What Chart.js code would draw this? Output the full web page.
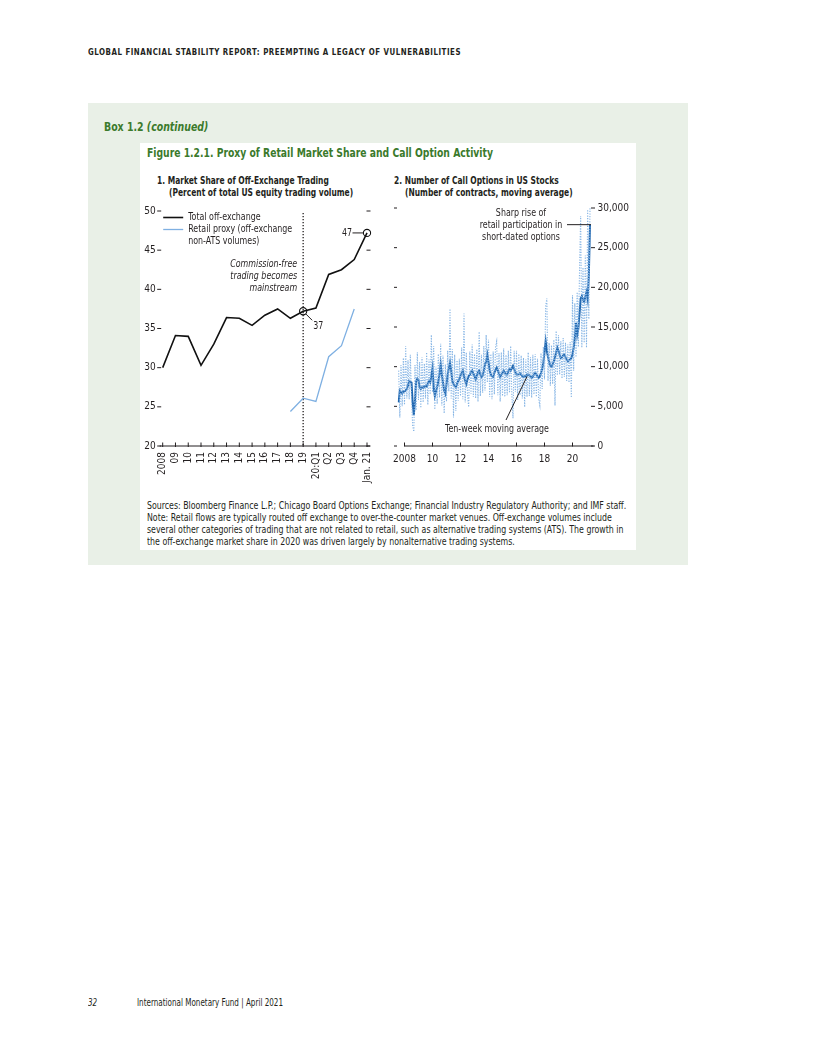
<!DOCTYPE html>
<html>
<head>
<meta charset="utf-8">
<script src="https://cdn.jsdelivr.net/npm/chart.js@4.4.1/dist/chart.umd.min.js"></script>
<style>
  body { margin: 0; background: #fff; }
  #page { position: relative; width: 816px; height: 1056px; overflow: hidden;
          font-family: "DejaVu Sans Condensed", "Liberation Sans", sans-serif; color: #231f20; }
  .abs { position: absolute; white-space: nowrap; transform-origin: 0 0; }
  .hdr { font-size: 9px; font-weight: bold; letter-spacing: 0.6px; line-height: 12px; transform: scaleX(0.87); }
  .boxlbl { font-size: 12px; font-weight: bold; color: #3b7a2c; line-height: 16px; transform: scaleX(0.87); }
  .figttl { font-size: 12px; font-weight: bold; color: #3b7a2c; line-height: 14px; transform: scaleX(0.855); }
  .ptl { font-size: 10px; font-weight: bold; line-height: 12px; transform: scaleX(0.835); }
  .notes { font-size: 9.6px; line-height: 12px; transform: scaleX(0.91); }
  .foot { font-size: 10px; line-height: 12px; transform: scaleX(0.8); }
  canvas { position: absolute; }
</style>
</head>
<body>
<div id="page">
  <div class="abs hdr" style="left:88px; top:46px;">GLOBAL FINANCIAL STABILITY REPORT: PREEMPTING A LEGACY OF VULNERABILITIES</div>

  <div class="abs" style="left:88px; top:103px; width:600px; height:462px; background:#e9f0e7;"></div>
  <div class="abs boxlbl" style="left:104px; top:119px;">Box 1.2 <i>(continued)</i></div>
  <div class="abs" style="left:140px; top:143px; width:496px; height:407px; background:#fff;"></div>
  <div class="abs figttl" style="left:147px; top:146px;">Figure 1.2.1. Proxy of Retail Market Share and Call Option Activity</div>

  <div class="abs ptl" style="left:157px; top:175px;">1. Market Share of Off-Exchange Trading</div>
  <div class="abs ptl" style="left:169px; top:187px;">(Percent of total US equity trading volume)</div>
  <div class="abs ptl" style="left:394px; top:175px;">2. Number of Call Options in US Stocks</div>
  <div class="abs ptl" style="left:405px; top:187px;">(Number of contracts, moving average)</div>

  <canvas id="shareChart" width="245" height="300" style="left:140px; top:198px;"></canvas>
  <canvas id="callChart" width="245" height="300" style="left:385px; top:198px;"></canvas>

  <div class="abs notes" style="left:147px; top:500px;">Sources: Bloomberg Finance L.P.; Chicago Board Options Exchange; Financial Industry Regulatory Authority; and IMF staff.<br>Note: Retail flows are typically routed off exchange to over-the-counter market venues. Off-exchange volumes include<br>several other categories of trading that are not related to retail, such as alternative trading systems (ATS). The growth in<br>the off-exchange market share in 2020 was driven largely by nonalternative trading systems.</div>

  <div class="abs foot" style="left:88px; top:997px;"><i>32</i></div>
  <div class="abs foot" style="left:137px; top:997px;">International Monetary Fund | April 2021</div>
</div>

<script>
// panel 1: market share of off-exchange trading (percent)
const shareLabels = ['2008', '09', '10', '11', '12', '13', '14', '15', '16', '17', '18', '19',
  '20:Q1', 'Q2', 'Q3', 'Q4', 'Jan. 21'];
const totalOffExchange = [30.0, 34.1, 34.0, 30.3, 33.0, 36.4, 36.3, 35.4, 36.7, 37.5, 36.3, 37.2,
  37.6, 41.9, 42.5, 43.8, 47.2];
const retailProxy = [null, null, null, null, null, null, null, null, null, null, 24.4, 26.1,
  25.7, 31.4, 32.8, 37.5, null];
const markedPoints = [11, 16]; // 2019 and Jan. 21

// panel 2: call options, thousands of contracts, monthly from Aug 2007
const callStart = 2007 + 7 / 12;
const callRaw = [
  9.5, 3.6, 10.2, 5.0, 11.1,
  5.2, 12.6, 6.0, 10.8, 5.9, 11.5, 6.2, 2.5, 1.8, 10.2, 4.5, 11.8,
  5.8, 10.6, 4.8, 11.2, 5.5, 10.4, 6.0, 11.8, 5.2, 10.9, 6.5, 14.0,
  6.8, 12.6, 4.6, 10.0, 5.3, 11.6, 6.1, 12.9, 5.1, 11.4, 4.1, 10.3,
  5.6, 12.0, 6.9, 17.3, 6.0, 12.2, 3.6, 11.5, 4.4, 10.8, 5.7, 11.0,
  6.3, 12.4, 5.9, 16.7, 5.5, 11.8, 6.4, 4.9, 11.9, 6.6, 12.8, 6.2,
  11.6, 6.0, 12.2, 5.6, 14.4, 6.3, 11.5, 6.7, 12.6, 7.0, 14.0, 8.0,
  13.4, 6.2, 11.6, 5.9, 11.9, 6.5, 12.5, 13.2, 6.4, 11.7, 5.6, 11.8,
  6.3, 12.3, 6.2, 11.5, 6.4, 12.0, 6.7, 12.6, 6.5, 3.5, 12.0, 6.8,
  12.0, 5.8, 11.6, 6.4, 11.4, 6.0, 11.1, 4.9, 10.9, 6.2, 11.8, 6.3,
  11.2, 6.1, 11.5, 6.5, 11.6, 6.2, 11.0, 5.9, 5.1, 11.7, 7.2, 12.5,
  8.4, 17.6, 18.6, 8.2, 13.0, 7.6, 12.7, 7.8, 13.4, 5.1, 14.5, 8.9,
  14.0, 9.0, 13.2, 8.5, 13.6, 8.7, 13.0, 8.2, 12.8, 8.0, 13.1, 6.1,
  19.0, 9.5, 18.0, 11.2, 19.4, 12.5, 22.0, 29.0, 12.4, 22.5, 13.0, 24.0,
  12.4, 29.8, 16.0, 30.0
];
const callMovingAvg = [
  5.5, 7.0, 6.8, 6.6, 6.9,
  6.9, 7.0, 7.2, 7.6, 8.2, 8.1, 8.0, 5.5, 3.9, 5.8, 8.2, 8.5,
  8.3, 7.4, 7.2, 7.4, 7.3, 7.5, 7.6, 7.5, 7.9, 8.2, 8.0, 8.8,
  9.8, 7.5, 6.3, 6.9, 7.4, 8.2, 9.0, 10.3, 9.0, 8.0, 7.0, 6.6,
  7.8, 9.0, 9.8, 10.5, 9.5, 8.2, 7.8, 7.6, 7.4, 7.8, 8.2, 8.4,
  8.9, 9.2, 9.5, 8.8, 8.2, 7.8, 8.4, 8.8, 9.0, 9.3, 9.5, 9.1,
  8.8, 8.4, 8.9, 9.3, 9.5, 9.0, 8.7, 8.9, 9.5, 10.3, 10.6, 11.5,
  10.6, 9.5, 9.0, 8.8, 8.7, 9.2, 9.6, 9.9, 9.5, 9.1, 8.7, 9.0,
  9.2, 9.5, 9.3, 9.0, 9.0, 9.4, 9.7, 9.5, 9.8, 10.1, 9.7, 9.3,
  9.0, 9.0, 9.1, 9.2, 9.0, 8.8, 8.7, 8.8, 8.8, 9.0, 9.0, 8.9,
  8.8, 8.6, 8.8, 9.0, 9.2, 9.0, 8.8, 8.6, 8.8, 9.2, 9.7, 10.5,
  11.8, 13.2, 12.0, 11.2, 10.6, 10.1, 10.0, 10.3, 10.7, 11.2, 11.8, 12.4,
  12.0, 11.5, 11.1, 11.2, 11.4, 11.5, 11.2, 10.9, 10.7, 10.8, 10.9, 11.1,
  11.6, 12.4, 13.6, 15.5, 14.0, 14.8, 16.6, 18.6, 18.9, 18.4, 18.2, 18.8,
  19.4, 18.5, 21.5, 27.9
];
const callYearTicks = [2008, 2010, 2012, 2014, 2016, 2018, 2020];
const callYearLabels = ['2008', '10', '12', '14', '16', '18', '20'];

const FONT = '"DejaVu Sans Condensed", "Liberation Sans", sans-serif';
const INK = '#231f20';
const SQUEEZE = 0.88;
Chart.defaults.font.family = FONT;
Chart.defaults.font.size = 10;
Chart.defaults.color = INK;

function dash(ctx, x1, y1, x2, y2) {
  ctx.beginPath();
  ctx.moveTo(x1, y1);
  ctx.lineTo(x2, y2);
  ctx.stroke();
}

// narrow text, the report uses a condensed face
function say(ctx, text, x, y, align) {
  ctx.save();
  ctx.translate(x, y);
  ctx.scale(SQUEEZE, 1);
  ctx.textAlign = align || 'left';
  ctx.fillText(text, 0, 0);
  ctx.restore();
}

const shareDecor = {
  id: 'shareDecor',
  beforeDatasetsDraw(chart) {
    const { ctx, chartArea: a, scales: { x, y } } = chart;
    ctx.save();
    ctx.strokeStyle = INK;
    ctx.lineWidth = 1;
    dash(ctx, a.left - 3, a.bottom, a.right + 3, a.bottom);
    shareLabels.forEach((_, i) => {
      const px = x.getPixelForValue(i);
      dash(ctx, px, a.bottom - 3.5, px, a.bottom + 1);
    });
    y.ticks.forEach(t => {
      const py = y.getPixelForValue(t.value);
      dash(ctx, a.left - 5.5, py, a.left - 1.5, py);
      dash(ctx, a.right - 0.5, py, a.right + 3.5, py);
    });
    // dotted marker at 2019
    const x19 = x.getPixelForValue(11);
    ctx.setLineDash([1.2, 1.8]);
    ctx.lineWidth = 1.3;
    dash(ctx, x19, a.top + 2, x19, a.bottom);
    ctx.restore();
  },
  afterDatasetsDraw(chart) {
    const { ctx, chartArea: a, scales: { x, y } } = chart;
    ctx.save();
    ctx.font = '10px ' + FONT;
    ctx.fillStyle = INK;
    ctx.textBaseline = 'middle';
    // legend
    ctx.lineWidth = 1.6;
    ctx.strokeStyle = '#111';
    dash(ctx, a.left + 0.5, a.top + 6.5, a.left + 20.5, a.top + 6.5);
    ctx.lineWidth = 1.3;
    ctx.strokeStyle = '#7fb0e2';
    dash(ctx, a.left + 0.5, a.top + 18.5, a.left + 20.5, a.top + 18.5);
    say(ctx, 'Total off-exchange', a.left + 25.5, a.top + 6.5);
    say(ctx, 'Retail proxy (off-exchange', a.left + 25.5, a.top + 18.5);
    say(ctx, 'non-ATS volumes)', a.left + 25.5, a.top + 30.5);
    // commission-free note
    const x19 = x.getPixelForValue(11);
    ctx.font = 'italic 10px ' + FONT;
    say(ctx, 'Commission-free', x19 - 6, a.top + 53, 'right');
    say(ctx, 'trading becomes', x19 - 6, a.top + 65, 'right');
    say(ctx, 'mainstream', x19 - 6, a.top + 77, 'right');
    // value callouts
    ctx.font = '10px ' + FONT;
    ctx.strokeStyle = INK;
    ctx.lineWidth = 1;
    const p37y = y.getPixelForValue(totalOffExchange[11]);
    dash(ctx, x19 + 2.8, p37y + 2.8, x19 + 9, p37y + 9);
    say(ctx, '37', x19 + 10, p37y + 15.5);
    const p47x = x.getPixelForValue(16), p47y = y.getPixelForValue(totalOffExchange[16]);
    dash(ctx, p47x - 14.5, p47y, p47x - 3.6, p47y);
    say(ctx, '47', p47x - 15, p47y + 0.5, 'right');
    ctx.restore();
  }
};

new Chart(document.getElementById('shareChart'), {
  type: 'line',
  data: {
    labels: shareLabels,
    datasets: [
      {
        label: 'Total off-exchange',
        data: totalOffExchange,
        borderColor: '#111',
        borderWidth: 1.6,
        tension: 0,
        pointRadius: c => markedPoints.includes(c.dataIndex) ? 3.6 : 0,
        pointBorderColor: '#111',
        pointBackgroundColor: 'rgba(255,255,255,0)',
        pointBorderWidth: 1.1
      },
      {
        label: 'Retail proxy (off-exchange non-ATS volumes)',
        data: retailProxy,
        borderColor: '#7fb0e2',
        borderWidth: 1.3,
        tension: 0,
        pointRadius: 0
      }
    ]
  },
  options: {
    responsive: false,
    animation: false,
    layout: { padding: { top: 7, right: 11.7, left: 0, bottom: 0 } },
    plugins: { legend: { display: false }, tooltip: { enabled: false } },
    scales: {
      x: {
        grid: { display: false, drawTicks: false },
        border: { display: false },
        ticks: { autoSkip: false, minRotation: 90, maxRotation: 90, padding: 6 },
        afterFit: s => { s.height = 52; }
      },
      y: {
        min: 20,
        max: 50,
        grid: { display: false, drawTicks: false },
        border: { display: false },
        ticks: { stepSize: 5, padding: 7 },
        afterFit: s => { s.width = 22.7; }
      }
    }
  },
  plugins: [shareDecor]
});

const callDecor = {
  id: 'callDecor',
  beforeDatasetsDraw(chart) {
    const { ctx, chartArea: a, scales: { x, y } } = chart;
    ctx.save();
    ctx.strokeStyle = INK;
    ctx.lineWidth = 1;
    dash(ctx, x.getPixelForValue(callYearTicks[0]), a.bottom, a.right, a.bottom);
    callYearTicks.forEach(v => {
      const px = x.getPixelForValue(v);
      dash(ctx, px, a.bottom - 3.5, px, a.bottom + 0.5);
    });
    y.ticks.forEach(t => {
      const py = y.getPixelForValue(t.value);
      dash(ctx, a.left - 3.5, py, a.left - 0.5, py);
      dash(ctx, a.right - 2.5, py, a.right + 1.5, py);
    });
    ctx.restore();
  },
  afterDatasetsDraw(chart) {
    const { ctx, chartArea: a, scales: { x, y } } = chart;
    const last = callMovingAvg.length - 1;
    const lx = x.getPixelForValue(callStart + last / 12);
    const ly = y.getPixelForValue(callMovingAvg[last]);
    ctx.save();
    ctx.font = '10px ' + FONT;
    ctx.fillStyle = INK;
    ctx.strokeStyle = INK;
    ctx.lineWidth = 1;
    ctx.textBaseline = 'middle';
    say(ctx, 'Sharp rise of', lx - 69, a.top + 5, 'center');
    say(ctx, 'retail participation in', lx - 69, a.top + 17.3, 'center');
    say(ctx, 'short-dated options', lx - 69, a.top + 29, 'center');
    dash(ctx, lx - 23, ly, lx + 1, ly);
    // ten-week moving average callout, pointing at Oct 2016
    const k = 110;
    const tx = x.getPixelForValue(callStart + k / 12);
    const ty = y.getPixelForValue(callMovingAvg[k]);
    dash(ctx, tx, ty + 2, tx - 21, a.bottom - 26);
    say(ctx, 'Ten-week moving average', tx - 30, a.bottom - 17, 'center');
    ctx.restore();
  }
};

new Chart(document.getElementById('callChart'), {
  type: 'line',
  data: {
    datasets: [
      {
        label: 'Weekly',
        data: callRaw.map((v, i) => ({ x: callStart + i / 12, y: v })),
        borderColor: '#86b5e5',
        borderWidth: 1.1,
        borderDash: [1.2, 1.4],
        pointRadius: 0,
        tension: 0,
        clip: false
      },
      {
        label: 'Ten-week moving average',
        data: callMovingAvg.map((v, i) => ({ x: callStart + i / 12, y: v })),
        borderColor: '#1d64ad',
        borderWidth: 2,
        pointRadius: 0,
        tension: 0
      }
    ]
  },
  options: {
    responsive: false,
    animation: false,
    layout: { padding: { top: 7, right: 0, left: 12.5, bottom: 0 } },
    plugins: { legend: { display: false }, tooltip: { enabled: false } },
    scales: {
      x: {
        type: 'linear',
        min: 2007.5,
        max: 2021.5,
        grid: { display: false, drawTicks: false },
        border: { display: false },
        afterBuildTicks: s => { s.ticks = callYearTicks.map(v => ({ value: v })); },
        ticks: {
          autoSkip: false,
          maxRotation: 0,
          padding: 7,
          callback: v => callYearLabels[callYearTicks.indexOf(v)]
        },
        afterFit: s => { s.height = 52; }
      },
      y: {
        position: 'right',
        min: 0,
        max: 30,
        grid: { display: false, drawTicks: false },
        border: { display: false },
        ticks: { stepSize: 5, padding: 4, callback: v => (v * 1000).toLocaleString('en-US') },
        afterFit: s => { s.width = 36.5; }
      }
    }
  },
  plugins: [callDecor]
});
</script>
</body>
</html>
